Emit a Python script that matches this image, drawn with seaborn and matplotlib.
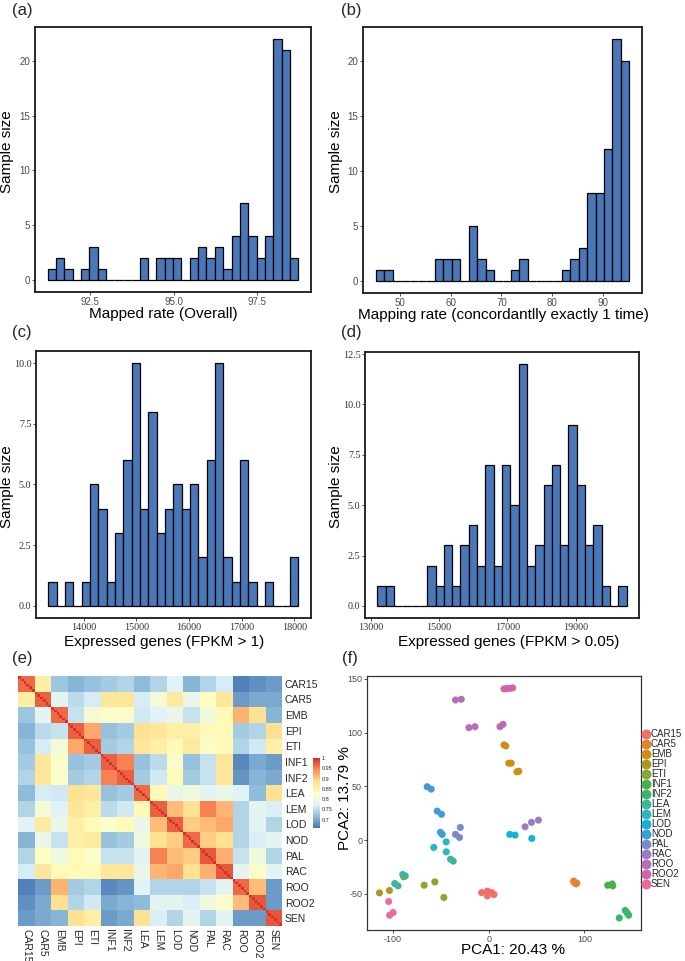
import numpy as np
import pandas as pd
import seaborn as sns
import matplotlib.pyplot as plt
from matplotlib.colors import LinearSegmentedColormap

# ---- histogram data (30 bins each, counts) ----
a_start, a_width = 91.23, 0.25
a_counts = [1, 2, 1, 0, 1, 3, 1, 0, 0, 0, 0, 2, 0, 2, 2, 2, 0, 2, 3, 2, 3, 1, 4, 7, 4, 2, 4, 22, 21, 2]
b_start, b_width = 45.3, 1.66
b_counts = [1, 1, 0, 0, 0, 0, 0, 2, 2, 2, 0, 5, 2, 1, 0, 0, 1, 2, 0, 0, 0, 0, 1, 2, 3, 8, 8, 12, 22, 20]
c_start, c_width = 13336, 158
c_counts = [1, 0, 1, 0, 1, 5, 4, 1, 3, 6, 10, 4, 8, 3, 4, 5, 4, 5, 2, 6, 10, 2, 1, 6, 1, 0, 1, 0, 0, 2]
d_start, d_width = 13195, 243.2
d_counts = [1, 1, 0, 0, 0, 0, 2, 1, 3, 1, 3, 4, 2, 7, 2, 7, 5, 12, 2, 3, 6, 7, 3, 9, 6, 3, 4, 1, 0, 1]

# ---- tissue groups ----
groups = ['CAR15', 'CAR5', 'EMB', 'EPI', 'ETI', 'INF1', 'INF2', 'LEA',
          'LEM', 'LOD', 'NOD', 'PAL', 'RAC', 'ROO', 'ROO2', 'SEN']
group_colors = ['#F2706B', '#E5822A', '#CF8E14', '#A99A1C', '#84A832', '#45B14A',
                '#3CB46E', '#38B79A', '#2BB8BC', '#12B2DA', '#3E9CDB', '#7A8ACF',
                '#9C7BC6', '#B56EB8', '#CF64AD', '#EA6A9C']

# group-level mean correlation (rows/cols in the order of `groups`)
corr_rows = [
    [0.965, 0.86, 0.73, 0.71, 0.72, 0.73, 0.74, 0.71, 0.74, 0.77, 0.71, 0.74, 0.755, 0.67, 0.68, 0.69],
    [0.86, 0.97, 0.78, 0.755, 0.78, 0.875, 0.875, 0.78, 0.82, 0.875, 0.80, 0.84, 0.875, 0.69, 0.70, 0.70],
    [0.72, 0.78, 0.965, 0.755, 0.82, 0.82, 0.82, 0.755, 0.77, 0.78, 0.755, 0.80, 0.84, 0.925, 0.885, 0.71],
    [0.71, 0.74, 0.755, 0.97, 0.925, 0.72, 0.73, 0.885, 0.875, 0.86, 0.86, 0.84, 0.84, 0.73, 0.74, 0.885],
    [0.72, 0.755, 0.80, 0.925, 0.97, 0.73, 0.74, 0.875, 0.86, 0.84, 0.86, 0.82, 0.84, 0.74, 0.77, 0.86],
    [0.73, 0.875, 0.82, 0.72, 0.73, 0.97, 0.95, 0.72, 0.74, 0.82, 0.72, 0.755, 0.875, 0.67, 0.70, 0.69],
    [0.74, 0.875, 0.82, 0.73, 0.74, 0.95, 0.97, 0.73, 0.755, 0.84, 0.73, 0.755, 0.875, 0.68, 0.71, 0.70],
    [0.72, 0.755, 0.77, 0.885, 0.875, 0.72, 0.73, 0.965, 0.84, 0.78, 0.80, 0.78, 0.78, 0.78, 0.71, 0.885],
    [0.74, 0.80, 0.78, 0.875, 0.86, 0.755, 0.77, 0.84, 0.97, 0.91, 0.885, 0.95, 0.92, 0.74, 0.78, 0.77],
    [0.78, 0.86, 0.80, 0.86, 0.84, 0.82, 0.84, 0.80, 0.91, 0.97, 0.90, 0.91, 0.925, 0.74, 0.78, 0.74],
    [0.71, 0.78, 0.755, 0.86, 0.875, 0.72, 0.73, 0.80, 0.885, 0.90, 0.965, 0.90, 0.885, 0.74, 0.77, 0.78],
    [0.74, 0.82, 0.80, 0.84, 0.82, 0.755, 0.755, 0.78, 0.95, 0.91, 0.90, 0.975, 0.92, 0.755, 0.80, 0.74],
    [0.78, 0.875, 0.84, 0.84, 0.84, 0.875, 0.875, 0.80, 0.91, 0.925, 0.885, 0.92, 0.975, 0.78, 0.82, 0.78],
    [0.67, 0.69, 0.91, 0.73, 0.74, 0.68, 0.69, 0.77, 0.74, 0.74, 0.74, 0.755, 0.78, 0.965, 0.91, 0.69],
    [0.68, 0.70, 0.885, 0.74, 0.755, 0.70, 0.71, 0.72, 0.78, 0.78, 0.77, 0.80, 0.82, 0.91, 0.975, 0.69],
    [0.69, 0.70, 0.71, 0.885, 0.86, 0.69, 0.70, 0.885, 0.77, 0.74, 0.78, 0.74, 0.78, 0.69, 0.69, 0.975],
]
reps = 6  # samples per tissue

# ---- PCA scores ----
pca_group = (['CAR15'] * 5 + ['CAR5'] * 4 + ['EMB'] * 6 + ['EPI'] * 3 + ['ETI'] * 3 +
             ['INF1'] * 3 + ['INF2'] * 4 + ['LEA'] * 6 + ['LEM'] * 3 + ['LOD'] * 3 +
             ['NOD'] * 6 + ['PAL'] * 3 + ['RAC'] * 3 + ['ROO'] * 6 + ['ROO2'] * 4 + ['SEN'] * 3)
pc1 = [-7.3, -1.4, 3.1, 5.5, -1.4,
       88.7, 91.0, 89.3, 92.0,
       16.0, 18.0, 21.0, 23.5, 29.5, 31.5,
       -114.0, -103.6, -88.7,
       -67.3, -56.2, -46.8,
       124.2, 128.8, 129.5,
       136.3, 142.6, 146.2, 144.5,
       -39.8, -37.0, -89.7, -87.0, -98.0, -94.6,
       -44.3, -57.3, -44.3,
       22.0, 27.5, 45.0,
       -64.2, -60.0, -53.7, -49.2, -50.3, -48.5,
       -29.6, -34.6, -30.4,
       38.0, 44.7, 52.0,
       -34.6, -28.6, -20.6, -14.3, 11.8, 15.0,
       16.0, 19.0, 22.0, 25.0,
       -104.4, -103.4, -99.8]
pc2 = [-48.7, -47.4, -48.7, -50.5, -51.8,
       -38.0, -40.6, -39.3, -40.0,
       88.5, 87.5, 71.5, 71.5, 63.5, 64.0,
       -49.0, -46.8, -34.1,
       -41.9, -38.8, -53.3,
       -41.9, -40.7, -42.5,
       -72.3, -65.4, -69.8, -67.6,
       -17.7, -19.5, -31.9, -33.2, -40.3, -42.5,
       -1.6, -6.8, -10.9,
       5.3, 4.7, 1.6,
       49.6, 47.4, 27.0, 24.0, 7.2, 5.3,
       11.8, 5.3, 2.5,
       12.4, 16.5, 18.6,
       130.2, 130.9, 104.5, 105.4, 105.4, 107.6,
       140.5, 141.0, 141.0, 141.5,
       -57.0, -69.8, -67.3]

sns.set_style('ticks')
plt.rcParams['font.family'] = ['Liberation Sans', 'DejaVu Sans']
plt.rcParams['axes.unicode_minus'] = False

W, H = 685, 961
BAR = '#4A77B8'
fig = plt.figure(figsize=(W / 100, H / 100), dpi=100)


def px(x0, y0, x1, y1):
    # pixel box (top-left origin) -> figure fraction rect
    return [x0 / W, 1 - y1 / H, (x1 - x0) / W, (y1 - y0) / H]


def hist_panel(rect, start, width, counts, xticks, xfmt, yticks, yfmt, serif=False):
    ax = fig.add_axes(rect)
    edges = [start + width * i for i in range(len(counts) + 1)]
    hist_df = pd.DataFrame({'mid': [e + width / 2 for e in edges[:-1]], 'n': counts})
    sns.histplot(data=hist_df, x='mid', weights='n', bins=edges, color=BAR, alpha=1,
                 edgecolor='black', linewidth=0.9, ax=ax)
    span = edges[-1] - edges[0]
    ax.set_xlim(edges[0] - 0.05 * span, edges[-1] + 0.05 * span)
    top = max(counts)
    ax.set_ylim(-0.05 * top, 1.05 * top)
    ax.set_xticks(xticks)
    ax.set_xticklabels([xfmt.format(v) for v in xticks])
    ax.set_yticks(yticks)
    ax.set_yticklabels([yfmt.format(v) for v in yticks])
    ax.set_xlabel('')
    ax.set_ylabel('')
    for s in ax.spines.values():
        s.set_visible(True)
        s.set_linewidth(1.3)
        s.set_color('#1a1a1a')
    ax.tick_params(direction='out', length=2.5, width=0.6, color='#333333',
                   labelsize=7, labelcolor='#4d4d4d', pad=0.8)
    if serif:
        ax.tick_params(labelfontfamily='Liberation Serif', labelsize=7.3, labelcolor='#333333')
    return ax


hist_panel(px(35, 27, 311, 292), a_start, a_width, a_counts,
           [92.5, 95.0, 97.5], '{:.1f}', [0, 5, 10, 15, 20], '{:d}')
hist_panel(px(363, 27, 642, 293), b_start, b_width, b_counts,
           [50, 60, 70, 80, 90], '{:d}', [0, 5, 10, 15, 20], '{:d}')
hist_panel(px(36, 351, 311, 618), c_start, c_width, c_counts,
           [14000, 15000, 16000, 17000, 18000], '{:d}', [0, 2.5, 5, 7.5, 10], '{:.1f}', serif=True)
hist_panel(px(365, 352, 639, 618), d_start, d_width, d_counts,
           [13000, 15000, 17000, 19000], '{:d}', [0, 2.5, 5, 7.5, 10, 12.5], '{:.1f}', serif=True)

# axis titles
lab = dict(fontsize=11, color='black')
fig.text(163 / W, 1 - 314 / H, 'Mapped rate (Overall)', ha='center', va='center', **lab)
fig.text(503 / W, 1 - 315 / H, 'Mapping rate (concordantlly exactly 1 time)', ha='center', va='center', **lab)
fig.text(164 / W, 1 - 642 / H, 'Expressed genes (FPKM > 1)', ha='center', va='center', **lab)
fig.text(509 / W, 1 - 642 / H, 'Expressed genes (FPKM > 0.05)', ha='center', va='center', **lab)
for x, y in [(7, 152), (336, 152), (7, 487), (336, 487)]:
    fig.text(x / W, 1 - y / H, 'Sample size', rotation=90, ha='center', va='center', **lab)

# panel tags
for tag, x, y in [('(a)', 12, 10), ('(b)', 341, 10), ('(c)', 12, 333),
                  ('(d)', 341, 333), ('(e)', 12, 659), ('(f)', 342, 659)]:
    fig.text(x / W, 1 - y / H, tag, fontsize=12, ha='left', va='center')

# ---- (e) correlation heatmap ----
m = np.array(corr_rows)
m = (m + m.T) / 2
mat = np.kron(m, np.ones((reps, reps)))
np.fill_diagonal(mat, 1.0)
names = np.repeat(groups, reps)
corr_df = pd.DataFrame(mat, index=names, columns=names)

cmap = LinearSegmentedColormap.from_list(
    'rdylbu7', ['#4575B4', '#91BFDB', '#E0F3F8', '#FFFFBF', '#FEE090', '#FC8D59', '#D73027'])
axh = fig.add_axes(px(18, 676, 282, 926))
cax = fig.add_axes(px(313, 758, 320, 828))
sns.heatmap(corr_df, ax=axh, cbar_ax=cax, cmap=cmap, vmin=0.66, vmax=1.0,
            xticklabels=False, yticklabels=False)
centers = np.arange(len(groups)) * reps + reps / 2
axh.set_xticks(centers)
axh.set_xticklabels(groups, rotation=-90, fontsize=7.5)
axh.yaxis.tick_right()
axh.set_yticks(centers)
axh.set_yticklabels(groups, rotation=0, fontsize=7.5)
axh.tick_params(length=0, pad=2)
axh.set_xlabel('')
axh.set_ylabel('')
cb_ticks = [0.7, 0.75, 0.8, 0.85, 0.9, 0.95, 1.0]
cax.set_yticks(cb_ticks)
cax.set_yticklabels(['0.7', '0.75', '0.8', '0.85', '0.9', '0.95', '1'])
cax.tick_params(length=0, labelsize=4, pad=1)

# ---- (f) PCA ----
pca_df = pd.DataFrame({'PC1': pc1, 'PC2': pc2, 'Tissue': pca_group})
axp = fig.add_axes(px(367, 676, 641, 930))
sns.scatterplot(data=pca_df, x='PC1', y='PC2', hue='Tissue', hue_order=groups,
                palette=dict(zip(groups, group_colors)), s=26, linewidth=0, alpha=1, ax=axp)
axp.set_xlim(-127, 159)
axp.set_ylim(-83.5, 152.5)
axp.set_xticks([-100, 0, 100])
axp.set_yticks([-50, 0, 50, 100, 150])
axp.set_xlabel('')
axp.set_ylabel('')
for s in axp.spines.values():
    s.set_visible(True)
    s.set_linewidth(0.9)
    s.set_color('#333333')
axp.tick_params(direction='out', length=2.5, width=0.6, color='#333333',
                labelsize=6.5, labelcolor='#4d4d4d', pad=1)
handles, labels = axp.get_legend_handles_labels()
axp.legend(handles, labels, loc='upper left', bbox_to_anchor=(642 / W, 1 - 729 / H),
           bbox_transform=fig.transFigure, frameon=False, fontsize=7, markerscale=1.4,
           handletextpad=0.1, handlelength=0.8, labelspacing=0.0, borderaxespad=0,
           borderpad=0)
fig.text(513 / W, 1 - 950 / H, 'PCA1: 20.43 %', ha='center', va='center', **lab)
fig.text(345 / W, 1 - 798 / H, 'PCA2: 13.79 %', rotation=90, ha='center', va='center', **lab)

fig.savefig('out.png', dpi=100)
